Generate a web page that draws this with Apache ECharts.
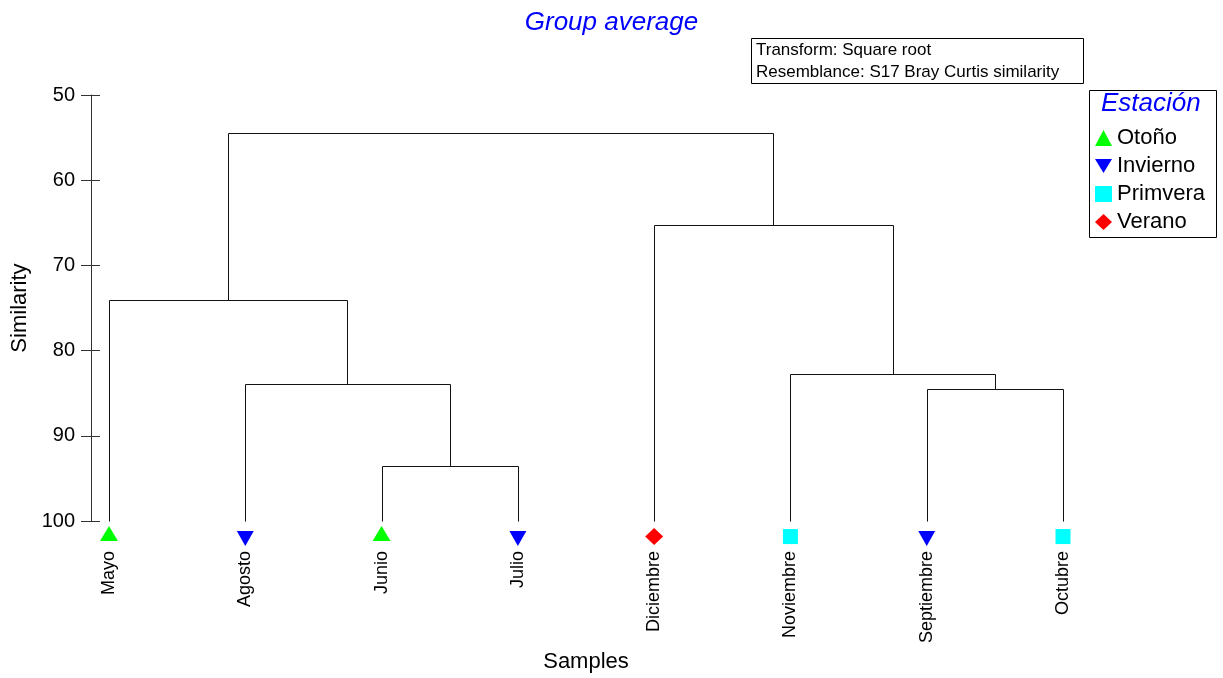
<!DOCTYPE html>
<html>
<head>
<meta charset="utf-8">
<title>Group average</title>
<script src="https://cdn.jsdelivr.net/npm/echarts@6/dist/echarts.min.js"></script>
<style>
  html, body { margin: 0; padding: 0; background: #fff; }
  #main { width: 1223px; height: 678px; }
</style>
</head>
<body>
<div id="main"></div>
<script>
// hojas del dendrograma, en el orden del eje x
var leaves = ["Mayo", "Agosto", "Junio", "Julio", "Diciembre", "Noviembre", "Septiembre", "Octubre"];
var leafSeason = ["Otoño", "Invierno", "Otoño", "Invierno", "Verano", "Primvera", "Invierno", "Primvera"];
var seasons = ["Otoño", "Invierno", "Primvera", "Verano"];
var seasonColors = ["#00ff00", "#0000ff", "#00ffff", "#ff0000"];

// uniones: nodos 0-7 = hojas, 8.. = uniones en este orden
var mergeLeft = [2, 6, 1, 5, 0, 4, 12];
var mergeRight = [3, 7, 8, 9, 10, 11, 13];
var mergeSim = [93.5, 84.5, 83.9, 82.8, 74.0, 65.2, 54.5];

var yTicks = [50, 60, 70, 80, 90, 100];

var FONT = "'Liberation Sans', Arial, sans-serif";

(function () {
  var myChart = echarts.init(document.getElementById("main"));

  // posicion x y altura de cada nodo
  var nodeX = leaves.map(function (n, i) { return i; });
  var nodeH = leaves.map(function () { return 100; });
  var links = [];
  mergeSim.forEach(function (s, k) {
    var l = mergeLeft[k], r = mergeRight[k];
    links.push([nodeX[l], nodeH[l], nodeX[r], nodeH[r], s]);
    nodeX.push((nodeX[l] + nodeX[r]) / 2);
    nodeH.push(s);
  });

  // simbolo de cada estacion
  var symbols = {
    "Otoño": { symbol: "triangle", size: [18, 15], offset: [0, 12.5] },
    "Invierno": { symbol: "path://M0,0L18,0L9,15Z", size: [17, 15], offset: [0, 17.5] },
    "Primvera": { symbol: "rect", size: [15, 15], offset: [0, 15.5] },
    "Verano": { symbol: "diamond", size: [18, 17], offset: [0, 15.5] },
  };

  var seriesList = [
    {
      name: "links",
      type: "custom",
      clip: false,
      z: 2,
      encode: { x: [0, 2], y: [1, 3, 4] },
      renderItem: function (params, api) {
        var px = function (p) { return [Math.round(p[0]) + 0.5, Math.round(p[1]) + 0.5]; };
        var p1 = px(api.coord([api.value(0), api.value(1)]));
        var p2 = px(api.coord([api.value(0), api.value(4)]));
        var p3 = px(api.coord([api.value(2), api.value(4)]));
        var p4 = px(api.coord([api.value(2), api.value(3)]));
        return {
          type: "polyline",
          shape: { points: [p1, p2, p3, p4] },
          style: { stroke: "#111", lineWidth: 1, fill: null },
        };
      },
      data: links,
    },
  ];

  seasons.forEach(function (s, k) {
    var pts = [];
    leaves.forEach(function (n, i) {
      if (leafSeason[i] === s) pts.push([i, 100]);
    });
    seriesList.push({
      name: s,
      type: "scatter",
      clip: false,
      z: 3,
      symbol: symbols[s].symbol,
      symbolSize: symbols[s].size,
      symbolOffset: symbols[s].offset,
      itemStyle: { color: seasonColors[k], opacity: 1 },
      data: pts,
    });
  });

  var option = {
    animation: false,
    title: {
      text: "Group average",
      left: "center",
      top: 5,
      textStyle: {
        color: "#0000ff",
        fontStyle: "italic",
        fontWeight: "normal",
        fontSize: 26,
        fontFamily: FONT,
      },
    },
    legend: {
      data: seasons,
      orient: "vertical",
      left: 1095,
      top: 127,
      padding: 0,
      itemWidth: 17,
      itemHeight: 16,
      itemGap: 6,
      itemTextGap: 10,
      textStyle: { color: "#000", fontSize: 22, fontFamily: FONT },
    },
    grid: {
      left: 91,
      right: 142,
      top: 95,
      bottom: 155,
      containLabel: false,
    },
    xAxis: {
      type: "value",
      min: -0.132,
      max: 7.132,
      name: "Samples",
      nameLocation: "middle",
      nameGap: 127,
      nameTextStyle: { color: "#000", fontSize: 22, fontFamily: FONT },
      axisLine: { show: false, onZero: false },
      axisTick: { show: false },
      splitLine: { show: false },
      axisLabel: {
        customValues: leaves.map(function (n, i) { return i; }),
        formatter: function (v) { return leaves[v]; },
        rotate: 90,
        margin: 30,
        color: "#000",
        fontSize: 18,
        fontFamily: FONT,
      },
    },
    yAxis: [
      {
        type: "value",
        inverse: true,
        min: 50,
        max: 100,
        interval: 10,
        name: "Similarity",
        nameLocation: "middle",
        nameRotate: 90,
        nameGap: 60,
        nameTextStyle: { color: "#000", fontSize: 22, fontFamily: FONT },
        axisLine: { show: true, onZero: false, lineStyle: { color: "#333", width: 1 } },
        axisTick: { show: true, length: 10, lineStyle: { color: "#333" } },
        splitLine: { show: false },
        axisLabel: {
          customValues: yTicks,
          margin: 16,
          color: "#000",
          fontSize: 20,
          fontFamily: FONT,
        },
      },
      {
        type: "value",
        position: "left",
        inverse: true,
        min: 50,
        max: 100,
        interval: 10,
        axisLine: { show: false, onZero: false },
        axisTick: { show: true, inside: true, length: 9, lineStyle: { color: "#333" } },
        axisLabel: { show: false },
        splitLine: { show: false },
      },
    ],
    graphic: [
      {
        type: "rect",
        shape: { x: 751.5, y: 38.5, width: 332, height: 45 },
        style: { fill: "#fff", stroke: "#000", lineWidth: 1 },
      },
      {
        type: "text",
        x: 756,
        y: 39,
        style: {
          text: "Transform: Square root\nResemblance: S17 Bray Curtis similarity",
          fontSize: 17,
          lineHeight: 22,
          fontFamily: FONT,
          fill: "#000",
        },
      },
      {
        type: "rect",
        shape: { x: 1089.5, y: 90.5, width: 127, height: 147 },
        style: { fill: null, stroke: "#000", lineWidth: 1 },
      },
      {
        type: "text",
        x: 1101,
        y: 91,
        style: {
          text: "Estación",
          fontSize: 26,
          fontStyle: "italic",
          fontFamily: FONT,
          fill: "#0000ff",
        },
      },
    ],
    series: seriesList,
  };
  myChart.setOption(option);
  window.addEventListener("resize", function () {
    myChart.resize();
  });
})();
</script>
</body>
</html>
